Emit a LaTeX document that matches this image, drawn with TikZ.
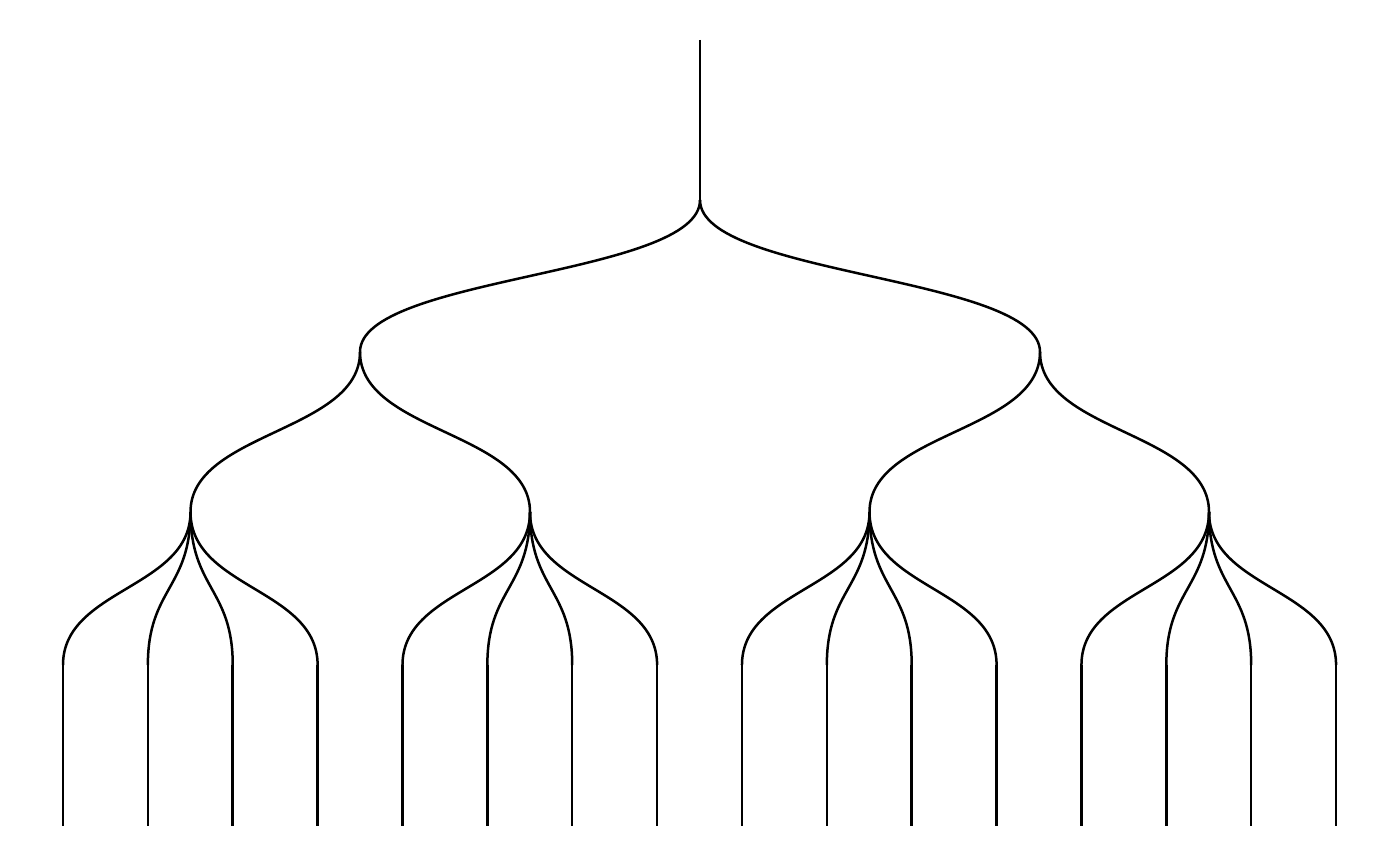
\documentclass[tikz,border=0pt]{standalone}
\usetikzlibrary{calc}
\tikzset{link/.style={draw=black,line width=1.25pt}}
\newcommand\branchlink[2]{%
  \path (#1) -- (#2) coordinate[pos=.5] (mm);
  \draw[link] (#1) .. controls (#1 |- mm) and (#2 |- mm) .. (#2);}
\begin{document}
\begin{tikzpicture}[x=0.5pt,y=-0.5pt]
\useasboundingbox (0,0) rectangle (1400,866);
% root
\coordinate (top) at (700,40);
\coordinate (r) at (700,200);
\draw[link] (top) -- (r);
% level 1
\coordinate (a) at (360,352);
\coordinate (b) at (1040,352);
\branchlink{r}{a}
\branchlink{r}{b}
% level 2
\coordinate (aa) at (190.5,512);
\coordinate (ab) at (530,512);
\coordinate (ba) at (869.5,512);
\coordinate (bb) at (1209,512);
\branchlink{a}{aa}
\branchlink{a}{ab}
\branchlink{b}{ba}
\branchlink{b}{bb}
% leaves
\foreach \i in {0,...,15}{
  \coordinate (l\i) at ({63+\i*84.87},665);
  \coordinate (e\i) at ({63+\i*84.87},826);
  \draw[link] (l\i) -- (e\i);
}
\foreach \i in {0,1,2,3}{\branchlink{aa}{l\i}}
\foreach \i in {4,5,6,7}{\branchlink{ab}{l\i}}
\foreach \i in {8,9,10,11}{\branchlink{ba}{l\i}}
\foreach \i in {12,13,14,15}{\branchlink{bb}{l\i}}
\end{tikzpicture}
\end{document}
